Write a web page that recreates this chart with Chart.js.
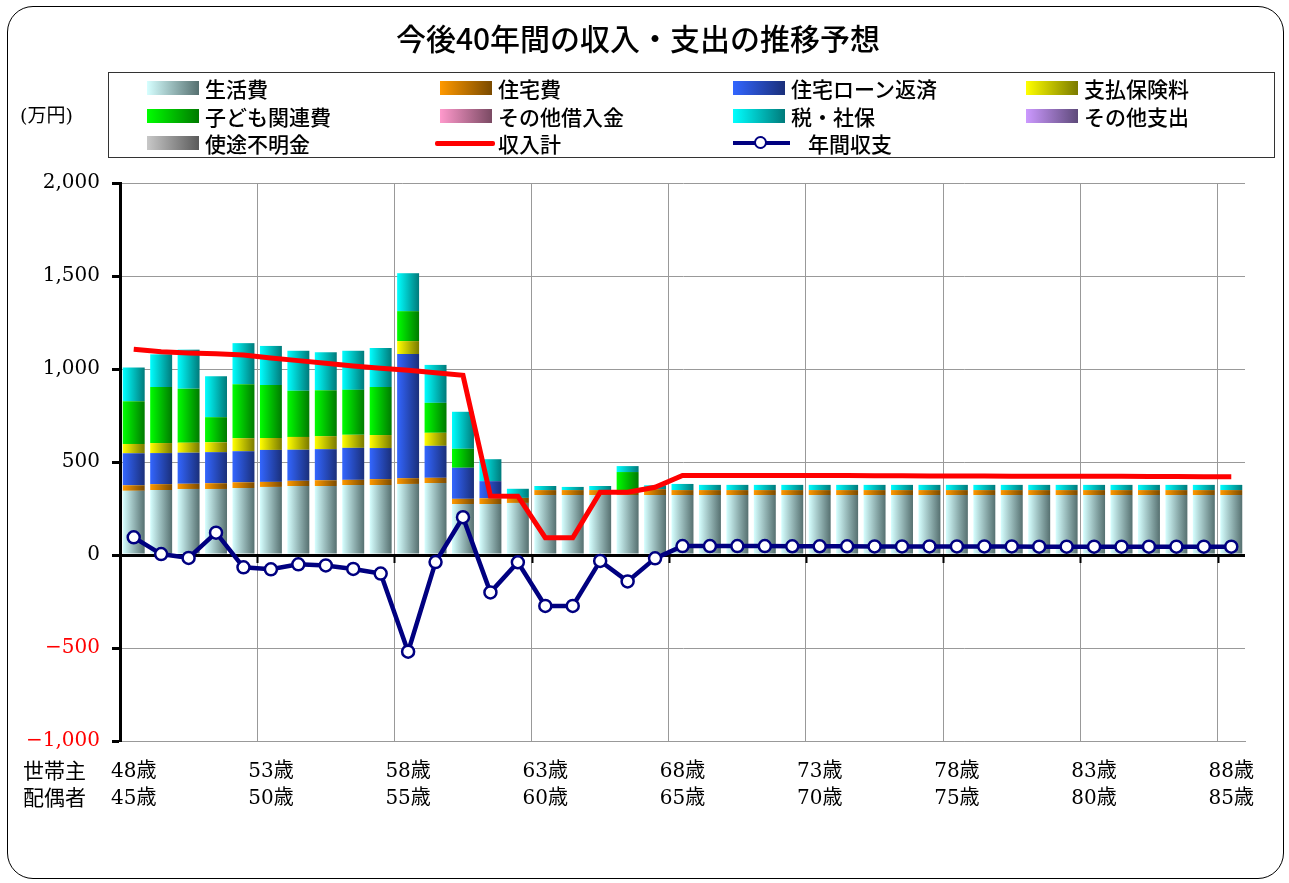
<!DOCTYPE html>
<html lang="ja">
<head>
<meta charset="utf-8">
<title>今後40年間の収入・支出の推移予想</title>
<script src="https://cdn.jsdelivr.net/npm/chart.js@4.4.1/dist/chart.umd.min.js"></script>
<style>
  html, body { margin: 0; padding: 0; background: #fff; }
  body { width: 1289px; height: 883px; position: relative; overflow: hidden; font-family: "Noto Sans CJK JP", sans-serif; }
  canvas { position: absolute; left: 0; top: 0; }
  #frame { position: absolute; left: 7px; top: 6px; width: 1275px; height: 871px; border: 1.5px solid #000; border-radius: 26px; }
  #title { position: absolute; left: 0; top: 15px; width: 1276px; text-align: center; font-size: 30px; font-weight: 500; }
  #legend { position: absolute; left: 108px; top: 72px; width: 1165px; height: 84px; border: 1px solid #333; background: #fff; }
  .item { position: absolute; height: 26px; display: flex; align-items: center; font-size: 21px; font-weight: 500; white-space: nowrap; }
  .sw { width: 52px; height: 14px; margin-right: 6px; }
  .ln { width: 60px; height: 5px; margin-right: 3px; background: #ff0000; border-radius: 2px; }
  .mk { position: relative; width: 57px; height: 4px; margin-right: 18px; background: #000080; }
  .mk span { position: absolute; left: 21px; top: -5px; width: 9px; height: 9px; border: 2.5px solid #000080; border-radius: 50%; background: #fff; }
  #unit { position: absolute; left: 20px; top: 100px; font-size: 19px; font-family: "DejaVu Serif", "Noto Sans CJK JP", serif; }
  #who { position: absolute; left: 23px; top: 758px; font-size: 21px; line-height: 27px; font-family: "DejaVu Serif", "Noto Sans CJK JP", serif; }
</style>
</head>
<body>
<canvas id="myChart" width="1289" height="883"></canvas>
<div id="frame"></div>
<div id="title">今後40年間の収入・支出の推移予想</div>
<div id="legend"></div>
<div id="unit">(万円)</div>
<div id="who">世帯主<br>配偶者</div>
<script>
// 年齢 (世帯主 / 配偶者)
const headAge   = [48,49,50,51,52,53,54,55,56,57,58,59,60,61,62,63,64,65,66,67,68,69,70,71,72,73,74,75,76,77,78,79,80,81,82,83,84,85,86,87,88];
const spouseAge = [45,46,47,48,49,50,51,52,53,54,55,56,57,58,59,60,61,62,63,64,65,66,67,68,69,70,71,72,73,74,75,76,77,78,79,80,81,82,83,84,85];

// 支出 (万円)
const living    = [345,349,355,355,360,366,371,371,376,376,382,387,274,274,280,322,322,322,322,322,322,322,322,322,322,322,322,322,322,322,322,322,322,322,322,322,322,322,322,322,322];
const housing   = [30,32,28,31,31,27,28,31,28,32,31,28,28,31,27,27,27,27,27,32,27,27,27,27,27,27,27,27,27,27,27,27,27,27,27,27,27,27,27,27,27];
const loan      = [172,167,167,167,167,172,167,167,172,167,667,172,167,92,0,0,0,0,0,0,0,0,0,0,0,0,0,0,0,0,0,0,0,0,0,0,0,0,0,0,0];
const insurance = [50,54,54,53,70,64,69,70,70,70,70,70,0,0,0,0,0,0,0,0,0,0,0,0,0,0,0,0,0,0,0,0,0,0,0,0,0,0,0,0,0];
const kids      = [230,301,290,135,290,285,248,247,242,258,161,161,102,0,0,0,0,0,97,0,0,0,0,0,0,0,0,0,0,0,0,0,0,0,0,0,0,0,0,0,0];
const otherLoan = [0,0,0,0,0,0,0,0,0,0,0,0,0,0,0,0,0,0,0,0,0,0,0,0,0,0,0,0,0,0,0,0,0,0,0,0,0,0,0,0,0];
const tax       = [181,176,210,220,221,210,215,204,210,210,204,204,199,118,49,22,17,22,32,21,33,28,28,28,28,28,28,28,28,28,28,28,28,28,28,28,28,28,28,28,28];
const otherExp  = [0,0,0,0,0,0,0,0,0,0,0,0,0,0,0,0,0,0,0,0,0,0,0,0,0,0,0,0,0,0,0,0,0,0,0,0,0,0,0,0,0];
const unknown   = [0,0,0,0,0,0,0,0,0,0,0,0,0,0,0,0,0,0,0,0,0,0,0,0,0,0,0,0,0,0,0,0,0,0,0,0,0,0,0,0,0];

// 収入計 / 年間収支 (万円)
const income = [1106,1093,1086,1082,1075,1059,1045,1031,1016,1004,993,980,966,317,316,93,93,337,337,364,428,428,428,428,427,427,427,426,426,425,425,425,424,424,424,423,423,422,422,421,421];
const net    = [95,5,-16,120,-66,-77,-50,-56,-75,-100,-520,-38,203,-201,-39,-274,-274,-32,-142,-18,48,48,48,48,47,47,47,46,46,46,46,46,46,45,45,45,45,45,45,45,45];

// y軸の目盛
const yTicks = [-1000, -500, 0, 500, 1000, 1500, 2000];

const serif = "'DejaVu Serif', 'Noto Sans CJK JP', serif";
const BAR_PCT = 0.8;

// 棒の横方向グラデーション
function grad(c1, c2) {
    return (c) => {
        const x = c.chart.scales.x;
        if (!x || c.dataIndex === undefined || !c.chart.chartArea) return c1;
        const cx = x.getPixelForValue(c.dataIndex);
        const w = x.width / headAge.length * BAR_PCT;
        const g = c.chart.ctx.createLinearGradient(cx - w / 2, 0, cx + w / 2, 0);
        g.addColorStop(0, c1);
        g.addColorStop(1, c2);
        return g;
    };
}

function bar(label, data, c1, c2) {
    return {
        type: 'bar', label: label, data: data,
        backgroundColor: grad(c1, c2),
        c1: c1, c2: c2,
        borderWidth: 0, barPercentage: BAR_PCT, categoryPercentage: 1.0,
        order: 2
    };
}

// ゼロ線の目盛り (5年ごと)
const zeroTicks = {
    id: 'zeroTicks',
    beforeDatasetsDraw(chart) {
        const x = chart.scales.x, y = chart.scales.y;
        const y0 = y.getPixelForValue(0);
        const cw = x.width / headAge.length;
        const ctx = chart.ctx;
        ctx.save();
        ctx.strokeStyle = '#000';
        ctx.lineWidth = 2;
        for (let i = 5; i < headAge.length; i += 5) {
            const px = Math.round(x.left + cw * i) + 0.5;
            ctx.beginPath();
            ctx.moveTo(px, y0);
            ctx.lineTo(px, y0 + 8);
            ctx.stroke();
        }
        ctx.restore();
    }
};

const ctx = document.getElementById('myChart').getContext('2d');
const myChart = new Chart(ctx, {
    data: {
        labels: headAge.map(a => a + '歳'),
        datasets: [
            bar('生活費', living, '#d6ffff', '#567070'),
            bar('住宅費', housing, '#ff9900', '#7a4a00'),
            bar('住宅ローン返済', loan, '#3366ff', '#1a2f7a'),
            bar('支払保険料', insurance, '#ffff00', '#7a7a00'),
            bar('子ども関連費', kids, '#00ff00', '#007a00'),
            bar('その他借入金', otherLoan, '#ff99cc', '#7a4a63'),
            bar('税・社保', tax, '#00ffff', '#007a7a'),
            bar('その他支出', otherExp, '#cc99ff', '#5e4a7a'),
            bar('使途不明金', unknown, '#c8c8c8', '#5a5a5a'),
            {
                type: 'line', label: '収入計', data: income, stack: 'income',
                borderColor: '#ff0000', borderWidth: 5, pointRadius: 0,
                tension: 0, order: 1
            },
            {
                type: 'line', label: '年間収支', data: net, stack: 'net',
                borderColor: '#000080', borderWidth: 4.5,
                pointRadius: 6, pointBorderWidth: 2.5,
                pointBackgroundColor: '#ffffff', pointBorderColor: '#000080',
                tension: 0, order: 0
            }
        ]
    },
    options: {
        responsive: false,
        animation: false,
        layout: { padding: { left: 0, right: 44, top: 183, bottom: 0 } },
        plugins: {
            legend: { display: false },
            tooltip: { enabled: false },
            title: { display: false }
        },
        scales: {
            x: {
                stacked: true,
                afterFit: (s) => { s.height = 142; },
                border: { color: '#999', width: 1 },
                grid: {
                    offset: true,
                    drawTicks: false,
                    color: (c) => (c.index % 5 === 0 && c.index > 0 && c.index < headAge.length) ? '#999' : 'rgba(0,0,0,0)',
                    lineWidth: 1
                },
                ticks: {
                    autoSkip: false, maxRotation: 0, minRotation: 0, padding: 17,
                    color: '#000',
                    font: { family: serif, size: 20, lineHeight: 1.35 },
                    callback: (v, i) => i % 5 === 0 ? [headAge[i] + '歳', spouseAge[i] + '歳'] : ''
                }
            },
            y: {
                stacked: true,
                min: yTicks[0], max: yTicks[yTicks.length - 1],
                afterFit: (s) => { s.width = 120; },
                afterBuildTicks: (s) => { s.ticks = yTicks.map(v => ({ value: v })); },
                border: { color: '#000', width: 3 },
                grid: {
                    color: (c) => c.tick && c.tick.value === 0 ? '#000' : '#999',
                    lineWidth: (c) => c.tick && c.tick.value === 0 ? 3 : 1,
                    tickColor: '#000',
                    tickWidth: 3,
                    tickLength: 8
                },
                ticks: {
                    padding: 12,
                    font: { family: serif, size: 20 },
                    color: (c) => c.tick.value < 0 ? '#ff0000' : '#000',
                    callback: (v) => Number(v).toLocaleString('en-US').replace('-', '\u2212')
                }
            }
        }
    },
    plugins: [zeroTicks]
});

// 凡例 (4列)
const legend = document.getElementById('legend');
myChart.data.datasets.forEach((ds, i) => {
    const col = i % 4, row = Math.floor(i / 4);
    const item = document.createElement('div');
    item.className = 'item';
    item.style.left = (38 + col * 293 - (ds.type === 'line' && col === 1 ? 5 : 0)) + 'px';
    item.style.top = (2 + row * 27.5) + 'px';
    let mark;
    if (ds.type === 'bar') {
        mark = document.createElement('div');
        mark.className = 'sw';
        mark.style.background = 'linear-gradient(to right, ' + ds.c1 + ', ' + ds.c2 + ')';
    } else if (ds.pointRadius) {
        mark = document.createElement('div');
        mark.className = 'mk';
        mark.appendChild(document.createElement('span'));
    } else {
        mark = document.createElement('div');
        mark.className = 'ln';
    }
    item.appendChild(mark);
    item.appendChild(document.createTextNode(ds.label));
    legend.appendChild(item);
});
</script>
</body>
</html>
